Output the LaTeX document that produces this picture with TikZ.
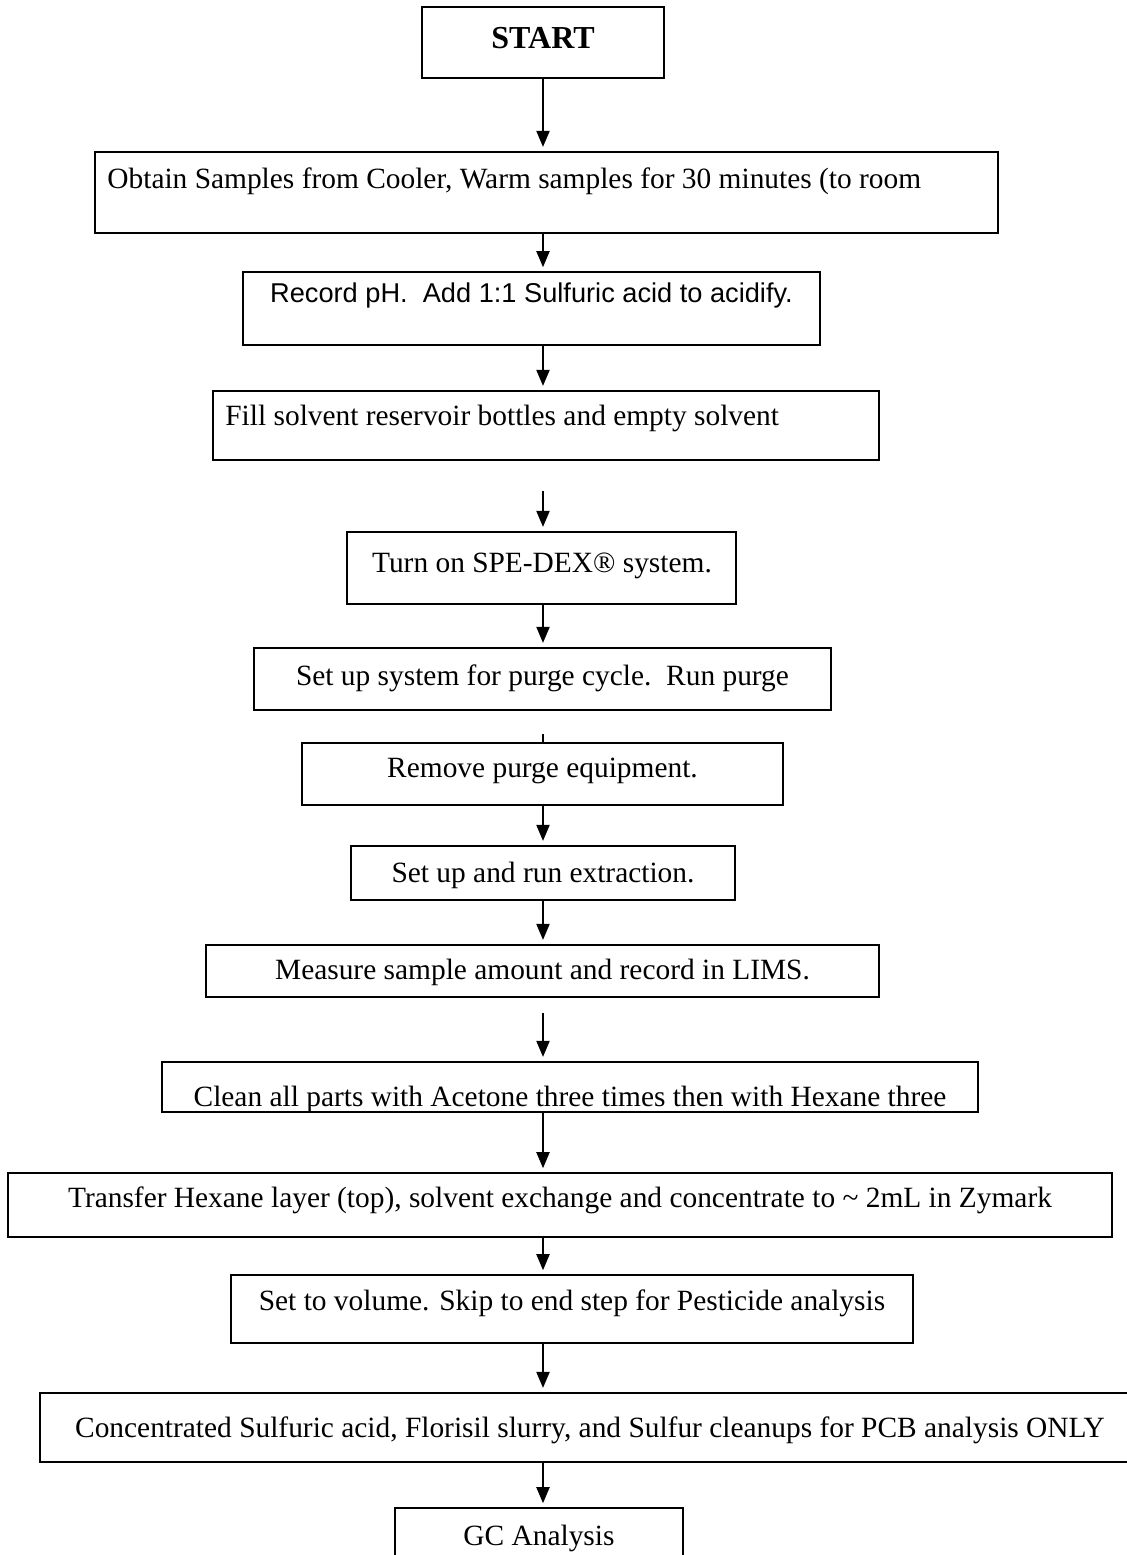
\documentclass[tikz,border=0pt]{standalone}
\usepackage{fontspec}
\setmainfont{Liberation Serif}
\newfontfamily\arialfont{Liberation Sans}
\usetikzlibrary{arrows.meta,fit}
\begin{document}
\begin{tikzpicture}[x=0.5pt,y=-0.5pt,
  flowbox/.style={draw, line width=1.1pt, inner sep=0pt},
  thinbox/.style={draw, line width=0.8pt, inner sep=0pt},
  txt/.style={inner sep=0pt, font=\fontsize{14.7pt}{17pt}\selectfont},
  arr/.style={line width=1pt, -{Triangle[length=8pt,width=6.5pt]}, shorten >=2pt},
  plainline/.style={line width=1pt}
]
\useasboundingbox (0,0) rectangle (1127,1555);
\clip (0,0) rectangle (1127,1555);
\coordinate (ax) at (543,0);

% boxes
\node[flowbox, fit={(422,7) (664,78)}] (n1) {};
\node[txt, anchor=base, font=\fontsize{16pt}{19pt}\selectfont\bfseries] (t1) at (543,48) {START};

\node[flowbox, fit={(95,152) (998,233)}] (n2) {};
\node[txt, anchor=base west] (t2) at (107,188) {Obtain Samples from Cooler, Warm samples for 30 minutes (to room};

\node[thinbox, fit={(243,272) (820,345)}] (n3) {};
\node[txt, anchor=base, font=\fontsize{13.6pt}{16pt}\arialfont] (t3) at (531.5,302) {Record pH.\ \ Add 1:1 Sulfuric acid to acidify.};

\node[flowbox, fit={(213,391) (879,460)}] (n4) {};
\node[txt, anchor=base west] (t4) at (225,425) {Fill solvent reservoir bottles and empty solvent};

\node[flowbox, fit={(347,532) (736,604)}] (n5) {};
\node[txt, anchor=base] (t5) at (542,572) {Turn on SPE-DEX\textregistered{} system.};

\node[flowbox, fit={(254,648) (831,710)}] (n6) {};
\node[txt, anchor=base] (t6) at (542.5,685) {Set up system for purge cycle.\ \ Run purge};

\node[thinbox, fit={(302,743) (783,805)}] (n7) {};
\node[txt, anchor=base] (t7) at (542.5,777) {Remove purge equipment.};

\node[flowbox, fit={(351,846) (735,900)}] (n8) {};
\node[txt, anchor=base] (t8) at (543,882) {Set up and run extraction.};

\node[flowbox, fit={(206,945) (879,997)}] (n9) {};
\node[txt, anchor=base] (t9) at (542.5,979) {Measure sample amount and record in LIMS.};

\node[flowbox, fit={(162,1062) (978,1112)}] (n10) {};
\begin{scope}
  \clip (162,1062) rectangle (978,1112);
  \node[txt, anchor=base] (t10) at (570,1106) {Clean all parts with Acetone three times then with Hexane three};
\end{scope}

\node[thinbox, fit={(8,1173) (1112,1237)}] (n11) {};
\node[txt, anchor=base] (t11) at (560,1207) {Transfer Hexane layer (top), solvent exchange and concentrate to \textasciitilde{} 2mL in Zymark};

\node[thinbox, fit={(231,1275) (913,1343)}] (n12) {};
\node[txt, anchor=base] (t12) at (572,1310) {Set to volume. Skip to end step for Pesticide analysis};

\node[flowbox, fit={(40,1393) (1140,1462)}] (n13) {};
\node[txt, anchor=base] (t13) at (590,1437) {Concentrated Sulfuric acid, Florisil slurry, and Sulfur cleanups for PCB analysis ONLY};

\node[thinbox, fit={(395,1508) (683,1600)}] (n14) {};
\node[txt, anchor=base] (t14) at (539,1545) {GC Analysis};

% connectors
\draw[arr] (n1.south -| ax) -- (n2.north -| ax);
\draw[arr] (n2.south -| ax) -- (n3.north -| ax);
\draw[arr] (n3.south -| ax) -- (n4.north -| ax);
\draw[arr, shorten <=15pt] (n4.south -| ax) -- (n5.north -| ax);
\draw[arr] (n5.south -| ax) -- (n6.north -| ax);
\draw[plainline, shorten <=11.5pt] (n6.south -| ax) -- (n7.north -| ax);
\draw[arr] (n7.south -| ax) -- (n8.north -| ax);
\draw[arr] (n8.south -| ax) -- (n9.north -| ax);
\draw[arr, shorten <=7.5pt] (n9.south -| ax) -- (n10.north -| ax);
\draw[arr] (n10.south -| ax) -- (n11.north -| ax);
\draw[arr] (n11.south -| ax) -- (n12.north -| ax);
\draw[arr] (n12.south -| ax) -- (n13.north -| ax);
\draw[arr] (n13.south -| ax) -- (n14.north -| ax);
\end{tikzpicture}
\end{document}
